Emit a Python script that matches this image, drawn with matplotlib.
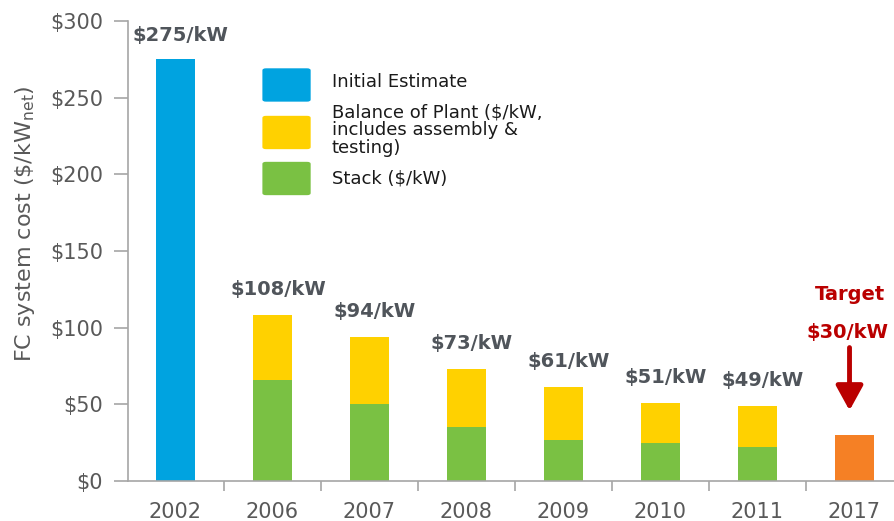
import numpy as np
import matplotlib.pyplot as plt
from matplotlib.patches import FancyBboxPatch

plt.rcParams['font.family'] = ['DejaVu Sans']

# данные
years = ['2002', '2006', '2007', '2008', '2009', '2010', '2011', '2017']
initial = [275, 0, 0, 0, 0, 0, 0, 0]
stack = [0, 66, 50, 35, 27, 25, 22, 0]
bop = [0, 42, 44, 38, 34, 26, 27, 0]
target = [0, 0, 0, 0, 0, 0, 0, 30]
totals = [275, 108, 94, 73, 61, 51, 49]
total_labels = ['$275/kW', '$108/kW', '$94/kW', '$73/kW', '$61/kW', '$51/kW', '$49/kW']

blue = '#00A3E0'
yellow = '#FFD100'
green = '#7AC143'
orange = '#F58025'
gray_txt = '#595959'
label_txt = '#50555b'
red = '#BA0000'

fig = plt.figure(figsize=(8.94, 5.21), dpi=100)
ax = fig.add_axes([0.143, 0.0768, 0.868, 0.883])

x = np.arange(len(years))
w = 0.40
ax.bar(x, initial, w, color=blue)
ax.bar(x, stack, w, color=green)
ax.bar(x, bop, w, bottom=stack, color=yellow)
ax.bar(x, target, w, color=orange)

# подписи над столбцами
for i, (t, lab) in enumerate(zip(totals, total_labels)):
    off = 17 if i == 0 else 18.5
    ax.annotate(lab, (x[i], t), xytext=(4, off), textcoords='offset points',
                ha='center', va='center', fontsize=14, fontweight='bold',
                color=label_txt)

# цель 2017
i = len(years) - 1
ax.annotate('Target', (x[i] - 0.05, target[i]), xytext=(0, 101), textcoords='offset points',
            ha='center', va='center', fontsize=14, fontweight='bold', color=red)
ax.annotate('$30/kW', (x[i] - 0.07, target[i]), xytext=(0, 74), textcoords='offset points',
            ha='center', va='center', fontsize=14, fontweight='bold', color=red)
ax.annotate('', xy=(x[i] - 0.05, 46), xytext=(x[i] - 0.05, 87),
            arrowprops=dict(arrowstyle='-|>,head_width=0.55,head_length=1.0',
                            mutation_scale=15, color=red, lw=3.5,
                            shrinkA=0, shrinkB=0))

ax.set_ylim(0, 300)
ax.set_xlim(-0.49, len(years) - 0.49)
ax.set_yticks(np.arange(0, 301, 50))
ax.set_yticklabels(['$' + str(v) for v in range(0, 301, 50)])
ax.set_xticks(x)
ax.set_xticklabels(years)
ax.set_xticks(x[1:] - 0.5, minor=True)

for s in ['top', 'right']:
    ax.spines[s].set_visible(False)
for s in ['left', 'bottom']:
    ax.spines[s].set_color('#a6a6a6')
    ax.spines[s].set_linewidth(1.2)

ax.tick_params(axis='y', length=10, width=1.2, color='#a6a6a6', pad=8,
               labelsize=15, labelcolor=gray_txt)
ax.tick_params(axis='x', which='major', length=0, pad=15, labelsize=15, labelcolor=gray_txt)
ax.tick_params(axis='x', which='minor', length=7, width=1.2, color='#a6a6a6')

ax.set_ylabel(r'FC system cost (\$/kW$_{\mathregular{net}}$)', fontsize=16,
              color=gray_txt)
ax.yaxis.set_label_coords(-0.117, 0.559)

# легенда вручную
leg_items = [(blue, 'Initial Estimate'),
             (yellow, 'Balance of Plant ($/kW,\nincludes assembly &\ntesting)'),
             (green, 'Stack ($/kW)')]
leg_y = [0.8369, 0.7457, 0.6574]
txt_y = [0.843, 0.750, 0.658]
for (c, t), yy, ty in zip(leg_items, leg_y, txt_y):
    fig.add_artist(FancyBboxPatch((0.2935, yy - 0.032), 0.054, 0.064,
                                  boxstyle='round,pad=0,rounding_size=0.004',
                                  transform=fig.transFigure, color=c, ec='none'))
    fig.text(0.371, ty, t, fontsize=13, color='#1a1a1a', va='center',
             ha='left', linespacing=1.0)

fig.savefig('out.png', dpi=100)
